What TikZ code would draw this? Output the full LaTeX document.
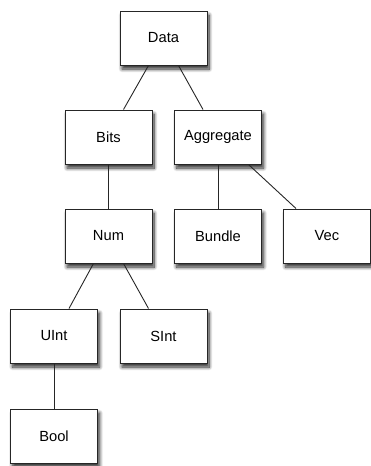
\documentclass[tikz,border=0pt]{standalone}
\usepackage{fontspec}
\setmainfont{Liberation Sans}
\usetikzlibrary{calc,shadows.blur}
\begin{document}
\begin{tikzpicture}[x=1pt,y=-1pt,
  box/.style={draw=black!85, line width=1pt, fill=white, rectangle,
    minimum width=87pt, minimum height=54pt, inner sep=0pt,
    font=\fontsize{14.7}{16}\selectfont,
    blur shadow={shadow xshift=2pt, shadow yshift=-4pt, shadow blur radius=3.5pt, shadow blur steps=10, shadow opacity=85}},
  link/.style={draw=black!85, line width=0.9pt}]
\useasboundingbox (0,0) rectangle (370,466);
\node[box] (data) at (163.5,38) {Data};
\node[box] (bits) at (108.5,137) {Bits};
\node[box] (agg) at (218,137) {Aggregate};
\node[box] (num) at (108.5,236) {Num};
\node[box] (bundle) at (218,236) {Bundle};
\node[box] (vec) at (327,236) {Vec};
\node[box] (uint) at (54,336) {UInt};
\node[box] (sint) at (163.5,336) {SInt};
\node[box] (bool) at (54,436) {Bool};
\draw[link] ($(data.south)+(-15,0)$) -- ($(bits.north)+(15,0)$);
\draw[link] ($(data.south)+(15,0)$) -- ($(agg.north)+(-15,0)$);
\draw[link] (bits.south) -- (num.north);
\draw[link] (agg.south) -- (bundle.north);
\draw[link] ($(agg.south)+(30.5,0)$) -- ($(vec.north)+(-31,0)$);
\draw[link] ($(num.south)+(-15,0)$) -- ($(uint.north)+(15,0)$);
\draw[link] ($(num.south)+(15,0)$) -- ($(sint.north)+(-15,0)$);
\draw[link] (uint.south) -- (bool.north);
\end{tikzpicture}
\end{document}
